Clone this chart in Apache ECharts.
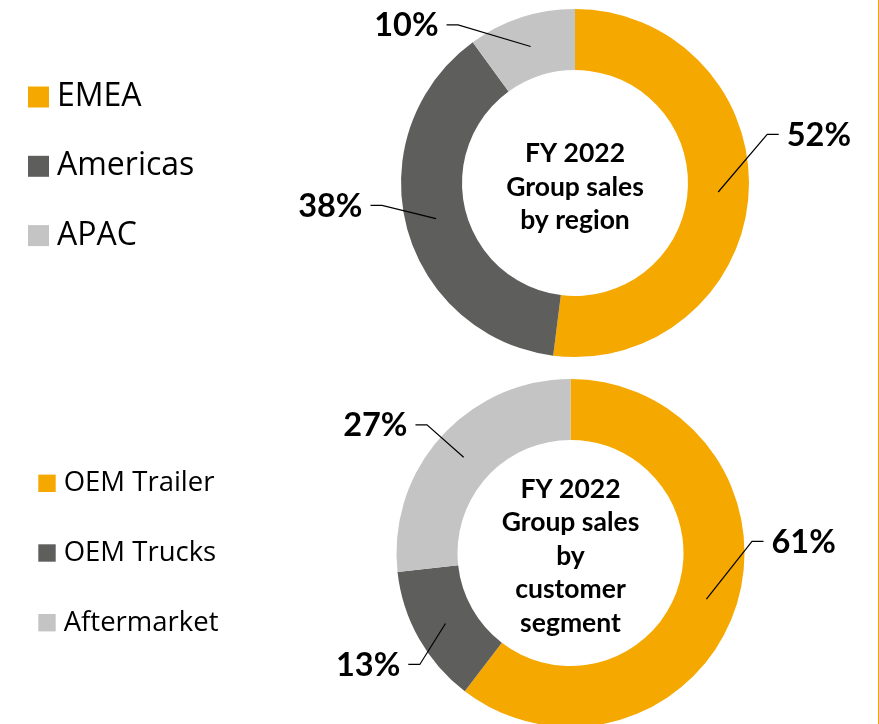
<!DOCTYPE html>
<html>
<head>
<meta charset="utf-8">
<script src="https://cdn.jsdelivr.net/npm/echarts@6/dist/echarts.min.js"></script>
<style>
  html, body { margin: 0; padding: 0; background: #fff; }
  #chart { width: 879px; height: 724px; }
</style>
</head>
<body>
<div id="chart"></div>
<script>
// ---- data ----
const regionNames = ['EMEA', 'Americas', 'APAC'];
const regionShares = [52, 38, 10];
const segmentNames = ['OEM Trailer', 'OEM Trucks', 'Aftermarket'];
const segmentShares = [61, 13, 27];
const regionTitle = 'FY 2022\nGroup sales\nby region';
const segmentTitle = 'FY 2022\nGroup sales\nby\ncustomer\nsegment';

// ---- styles / layout ----
const palette = ['#F5A800', '#5E5E5D', '#C3C4C3'];
const FONT = 'Lato, "Open Sans", "Noto Sans", sans-serif';
const LEGEND_FONT = '"Open Sans", "Noto Sans", sans-serif';
const regionCenter = [575, 183];
const segmentCenter = [570.5, 553];
const ringRadius = [113, 174];
const labelAnchorRadius = 143.5;
// label leader line knee offsets (from the anchor point in the ring)
const regionKnees = [[49, -57.7], [-54, -13.3], [-72.6, -21.7]];
const segmentKnees = [[45.6, -57.7], [-25.7, 41], [-36.7, -32.3]];

function toItems(names, values) {
  return names.map((n, i) => ({ name: n, value: values[i], itemStyle: { color: palette[i] } }));
}

function anchorPoint(center, values, idx) {
  const total = values.reduce((a, b) => a + b, 0);
  let before = 0;
  for (let i = 0; i < idx; i++) before += values[i];
  const ang = ((before + values[idx] / 2) / total) * Math.PI * 2;
  return [center[0] + labelAnchorRadius * Math.sin(ang), center[1] - labelAnchorRadius * Math.cos(ang)];
}

function makeLabelLayout(center, values, knees) {
  return function (p) {
    const s = (p.labelLinePoints && p.labelLinePoints[0]) || anchorPoint(center, values, p.dataIndex);
    const k = knees[p.dataIndex];
    const kx = s[0] + k[0], ky = s[1] + k[1];
    const dir = k[0] >= 0 ? 1 : -1;
    const ex = kx + dir * 11.5;
    return {
      x: ex + dir * 8,
      y: ky + 1,
      align: dir > 0 ? 'left' : 'right',
      verticalAlign: 'middle',
      labelLinePoints: [[s[0], s[1]], [kx, ky], [ex, ky]]
    };
  };
}

function ringSeries(center, names, values) {
  return {
    type: 'pie',
    z: 1,
    center: center,
    radius: ringRadius,
    startAngle: 90,
    clockwise: true,
    silent: true,
    label: { show: false },
    labelLine: { show: false },
    data: toItems(names, values)
  };
}

function labelSeries(center, names, values, knees) {
  return {
    type: 'pie',
    z: 5,
    center: center,
    radius: [0, labelAnchorRadius],
    startAngle: 90,
    clockwise: true,
    silent: true,
    avoidLabelOverlap: false,
    itemStyle: { color: 'rgba(0,0,0,0)' },
    label: {
      show: true,
      position: 'outside',
      formatter: '{c}%',
      fontFamily: FONT,
      fontWeight: 'bold',
      fontSize: 32.5,
      color: '#000'
    },
    labelLine: { show: true, length: 20, length2: 10, lineStyle: { color: '#000', width: 1.2 } },
    labelLayout: makeLabelLayout(center, values, knees),
    data: names.map((n, i) => ({ name: n, value: values[i] }))
  };
}

const chart = echarts.init(document.getElementById('chart'), null, { renderer: 'canvas' });
chart.setOption({
  animation: false,
  backgroundColor: '#fff',
  legend: [
    {
      orient: 'vertical',
      left: 28,
      top: 81,
      padding: 0,
      itemWidth: 21,
      itemHeight: 21,
      itemGap: 37.3,
      icon: 'rect',
      selectedMode: false,
      data: regionNames,
      textStyle: { fontFamily: LEGEND_FONT, fontSize: 32, color: '#000', padding: [0, 0, 0, 3] }
    },
    {
      orient: 'vertical',
      left: 38.3,
      top: 469.3,
      padding: 0,
      itemWidth: 17.4,
      itemHeight: 17.4,
      itemGap: 41.7,
      icon: 'rect',
      selectedMode: false,
      data: segmentNames,
      textStyle: { fontFamily: LEGEND_FONT, fontSize: 27.5, color: '#000', padding: [0, 0, 0, 3] }
    }
  ],
  series: [
    ringSeries(regionCenter, regionNames, regionShares),
    ringSeries(segmentCenter, segmentNames, segmentShares),
    labelSeries(regionCenter, regionNames, regionShares, regionKnees),
    labelSeries(segmentCenter, segmentNames, segmentShares, segmentKnees)
  ],
  graphic: [
    {
      type: 'text',
      silent: true,
      style: {
        text: regionTitle, x: regionCenter[0], y: 187,
        textAlign: 'center', textVerticalAlign: 'middle',
        fontFamily: FONT, fontWeight: 'bold', fontSize: 26.5, lineHeight: 33.7, fill: '#000'
      }
    },
    {
      type: 'text',
      silent: true,
      style: {
        text: segmentTitle, x: segmentCenter[0], y: 556,
        textAlign: 'center', textVerticalAlign: 'middle',
        fontFamily: FONT, fontWeight: 'bold', fontSize: 26.5, lineHeight: 33.5, fill: '#000'
      }
    },
    {
      type: 'line',
      silent: true,
      shape: { x1: 878.5, y1: 0, x2: 878.5, y2: 724 },
      style: { stroke: '#F5A800', lineWidth: 1 }
    }
  ]
});
</script>
</body>
</html>
